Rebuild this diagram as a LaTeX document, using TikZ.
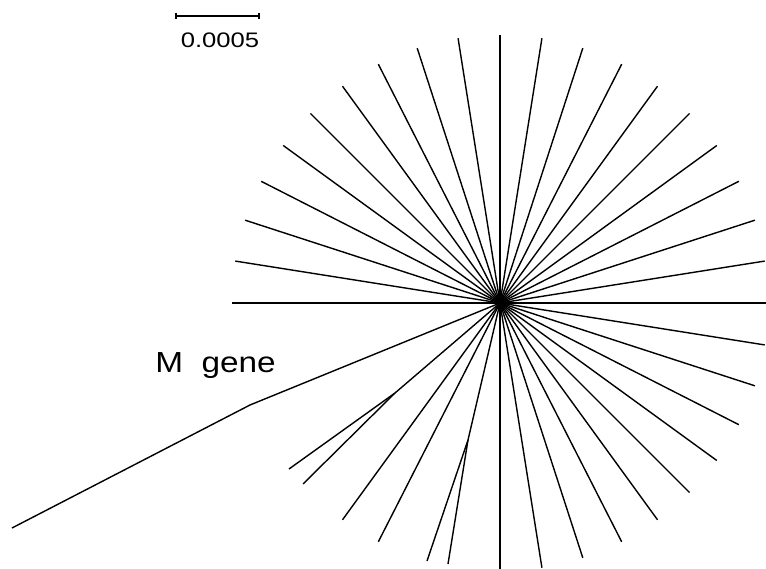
\documentclass[tikz,border=0pt]{standalone}
\usepackage{fontspec}
\setmainfont{Liberation Sans}
\usetikzlibrary{calc}
\begin{document}
\begin{tikzpicture}[x=1pt,y=-1pt,
  branch/.style={line width=1.4pt,line cap=butt},
  barline/.style={line width=1.3pt},
  lbl/.style={anchor=base,inner sep=0pt}]
\useasboundingbox (0,0) rectangle (766,569);
\coordinate (c) at (500,303);
% single leaves at equal angles (visual angle a, counterclockwise)
\foreach \a in {0,9,...,180,234,243,270,279,...,351}{
  \coordinate (L\a) at ($(c)+(-\a:268)$);
  \draw[branch] (c) -- (L\a);
}
% pair 1 (216, 225)
\coordinate (J1) at (395,393);
\coordinate (P1a) at (289,469);
\coordinate (P1b) at (303,484);
\draw[branch] (c) -- (J1);
\draw[branch] (J1) -- (P1a);
\draw[branch] (J1) -- (P1b);
% pair 2 (252, 261)
\coordinate (J2) at (468,440);
\coordinate (P2a) at (427,561);
\coordinate (P2b) at (448,564);
\draw[branch] (c) -- (J2);
\draw[branch] (J2) -- (P2a);
\draw[branch] (J2) -- (P2b);
% M gene branch
\coordinate (M1) at (250,405);
\coordinate (M2) at (12,528);
\draw[branch,line join=round] (c) -- (M1) -- (M2);
\node[lbl,xscale=1.15,font=\fontsize{29}{34}\selectfont] (mg) at (215.5,373) {M\ \ gene};
% scale bar
\coordinate (s1) at (176,16);
\coordinate (s2) at (259,16);
\draw[barline] (s1) -- (s2);
\draw[barline] ($(s1)+(0,-3)$) -- ($(s1)+(0,3)$);
\draw[barline] ($(s2)+(0,-3)$) -- ($(s2)+(0,3)$);
\node[lbl,xscale=1.22,font=\fontsize{21}{25}\selectfont] (sb) at (220,48) {0.0005};
\end{tikzpicture}
\end{document}
